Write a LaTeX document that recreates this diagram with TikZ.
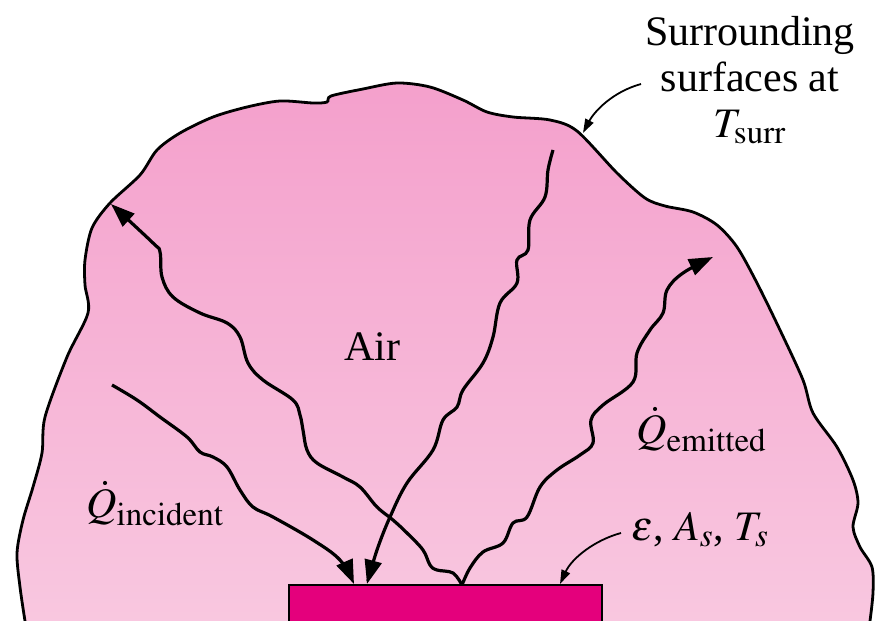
\documentclass[tikz,border=0pt]{standalone}
\usepackage{mathptmx}
\usepackage{fontspec}
\setmainfont{Liberation Serif}
\usetikzlibrary{arrows.meta}
\DeclareMathSizes{21}{21}{16.5}{12}
\definecolor{blobtop}{RGB}{244,160,204}
\definecolor{blobbot}{RGB}{249,202,225}
\definecolor{plate}{RGB}{228,0,124}
\begin{document}
\begin{tikzpicture}[x=0.5pt,y=-0.5pt,>={Triangle[length=12pt,width=8.5pt]},
  ray/.style={line width=1.6pt,->},
  pointer/.style={line width=0.9pt,-{Triangle[length=7pt,width=4.5pt]}},
  lbl/.style={inner sep=0pt,font=\fontsize{21}{23}\selectfont}]
\useasboundingbox (0,0) rectangle (875,621);
\clip (0,0) rectangle (875,621);
% air and surrounding surfaces
\shadedraw[top color=blobtop,bottom color=blobbot,line width=1.4pt]
  (25,660) -- plot[smooth,tension=0.5] coordinates {(25,621) (20,587) (17,553) (23,520)
  (33,487) (42,453) (45,417) (67,357) (88,313) (85,285) (85,260) (92,228) (110,203)
  (140,175) (157,150) (180,133) (213,117) (247,107) (280,101) (313,103) (327,102)
  (331,96) (363,89) (397,83) (430,87) (463,100) (487,112) (513,117) (550,120) (577,131)
  (617,173) (645,198) (665,206) (693,212) (717,225) (737,247) (757,283) (780,330)
  (803,380) (813,413) (837,447) (853,480) (858,503) (853,527) (860,547) (872,567)
  (873,593) (870,621)} -- (870,660) -- cycle;
% surface
\draw[fill=plate,line width=1.2pt] (289,585) rectangle (602,660);
\coordinate (src) at (462,585);
\coordinate (wall) at (583,133);
% radiation
\draw[ray] plot[smooth,tension=0.6] coordinates {(112,385) (137,400) (160,417) (187,437)
  (200,452) (213,457) (227,467) (240,490) (253,507) (273,517) (313,540) (340,560) (354,584)};
\draw[ray] plot[smooth,tension=0.6] coordinates {(src) (453,573) (437,570) (430,565)
  (423,550) (407,533) (393,520) (377,507) (360,487) (343,477) (317,463) (307,450)
  (303,430) (300,415) (293,400) (263,380) (248,363) (240,337) (227,323) (200,313)
  (173,297) (162,277) (160,252) (153,243) (111,204)};
\draw[ray] plot[smooth,tension=0.6] coordinates {(553,150) (548,170) (545,197) (530,220)
  (528,250) (517,260) (517,283) (500,303) (493,337) (483,363) (463,390) (457,407)
  (443,420) (433,450) (407,483) (390,517) (377,550) (367,584)};
\draw[ray] plot[smooth,tension=0.6] coordinates {(src) (470,568) (483,552) (503,543)
  (513,523) (527,517) (540,487) (557,470) (580,455) (593,443) (591,420) (603,405)
  (633,382) (637,353) (650,330) (663,313) (667,290) (683,273) (713,257)};
% labels
\node[lbl,anchor=base,align=center] (surr) at (750,137)
  {Surrounding\\surfaces at\\$T_{\mathrm{surr}}$};
\node[lbl,anchor=base] (air) at (372,360) {Air};
\node[lbl,anchor=base west] (qin) at (86,517) {$\dot{Q}_{\mathrm{incident}}$};
\node[lbl,anchor=base west] (qout) at (636,443) {$\dot{Q}_{\mathrm{emitted}}$};
\node[lbl,anchor=base west] (props) at (631,540) {$\varepsilon$, $A_s$, $T_s$};
\coordinate (surrtail) at (641,84);
\coordinate (propstail) at (621,533);
\coordinate (edge) at (560,584);
\draw[pointer] (surrtail) .. controls (612,92) and (594,112) .. (wall);
\draw[pointer] (propstail) .. controls (595,540) and (572,558) .. (edge);
\end{tikzpicture}
\end{document}
